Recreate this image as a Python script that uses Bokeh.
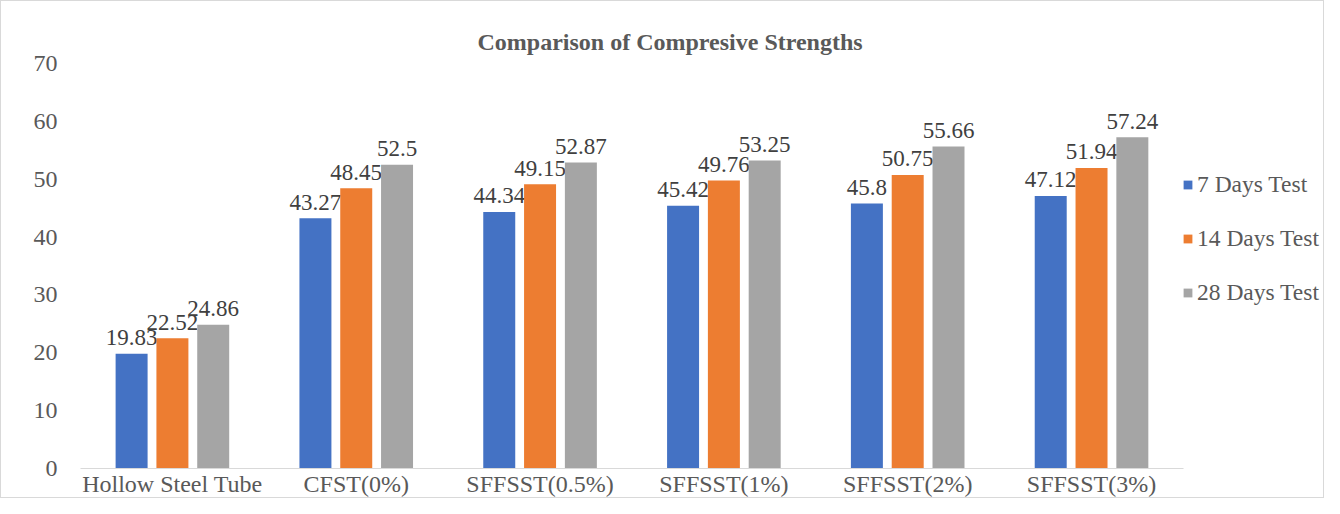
from bokeh.plotting import figure
from bokeh.models import ColumnDataSource, Range1d, Legend, LegendItem, SingleIntervalTicker, FixedTicker
from bokeh.transform import dodge
from bokeh.core.properties import value
from bokeh.embed import file_html
from bokeh.resources import INLINE

categories = ["Hollow Steel Tube", "CFST(0%)", "SFFSST(0.5%)", "SFFSST(1%)", "SFFSST(2%)", "SFFSST(3%)"]
series_names = ["7 Days Test", "14 Days Test", "28 Days Test"]
days7 = [19.83, 43.27, 44.34, 45.42, 45.8, 47.12]
days14 = [22.52, 48.45, 49.15, 49.76, 50.75, 51.94]
days28 = [24.86, 52.5, 52.87, 53.25, 55.66, 57.24]
colors = ["#4472C4", "#ED7D31", "#A5A5A5"]

FONT = "Liberation Serif"
n = len(categories)
centers = [i + 0.5 for i in range(n)]

src = ColumnDataSource(dict(
    x=centers,
    d7=days7, d14=days14, d28=days28,
    l7=[f"{v:g}" for v in days7],
    l14=[f"{v:g}" for v in days14],
    l28=[f"{v:g}" for v in days28],
))

# extra room on the right of the numeric x range holds the legend
p = figure(
    x_range=Range1d(0, n * 1.1288),
    y_range=Range1d(0, 70),
    width=1324, height=498,
    output_backend="svg", toolbar_location=None,
    min_border_left=79, min_border_right=0, min_border_bottom=25, min_border_top=62,
)
p.styles = {"border": "1px solid #d9d9d9"}
p.outline_line_color = None

p.title.text = "Comparison of Compresive Strengths"
p.title.text_font = FONT
p.title.text_font_size = "24px"
p.title.text_font_style = "bold"
p.title.text_color = "#595959"
p.title.align = "left"
p.title.offset = 397
p.title.standoff = 17

offsets = [-0.222, 0.0, 0.222]
fields = ["d7", "d14", "d28"]
lfields = ["l7", "l14", "l28"]
items = []
for off, f, lf, c, name in zip(offsets, fields, lfields, colors, series_names):
    r = p.vbar(x=dodge("x", off), top=f, width=0.174, source=src,
               fill_color=c, line_color=None)
    p.text(x=dodge("x", off), y=f, text=lf, source=src,
           text_font=value(FONT), text_font_size="23px", text_color="#404040",
           text_align="center", text_baseline="alphabetic", y_offset=-16)
    items.append(LegendItem(label=name, renderers=[r]))

legend = Legend(items=items, location=(1102, 162))
legend.padding = 0
legend.margin = 0
legend.border_line_color = None
legend.background_fill_alpha = 0
legend.glyph_width = 11
legend.glyph_height = 11
legend.label_height = 28
legend.label_standoff = 4
legend.label_text_font = FONT
legend.label_text_font_size = "23.5px"
legend.label_text_color = "#595959"
legend.label_text_baseline = "middle"
legend.spacing = 26
p.add_layout(legend, "center")

p.xgrid.grid_line_color = None
p.ygrid.grid_line_color = "#d9d9d9"
p.ygrid.grid_line_width = 1
p.ygrid.bounds = (0, n)
p.yaxis.ticker = SingleIntervalTicker(interval=10)
p.yaxis.axis_line_color = None
p.yaxis.major_tick_line_color = None
p.yaxis.minor_tick_line_color = None
p.yaxis.major_tick_out = 0
p.yaxis.major_tick_in = 0
p.yaxis.major_label_standoff = 19
p.yaxis.major_label_text_font = FONT
p.yaxis.major_label_text_font_size = "24px"
p.yaxis.major_label_text_color = "#595959"

p.xaxis.ticker = FixedTicker(ticks=centers)
p.xaxis.major_label_overrides = {c: lab for c, lab in zip(centers, categories)}
p.xaxis.bounds = (0, n)
p.xaxis.axis_line_color = "#d9d9d9"
p.xaxis.major_tick_line_color = None
p.xaxis.minor_tick_line_color = None
p.xaxis.major_tick_out = 0
p.xaxis.major_tick_in = 0
p.xaxis.major_label_standoff = 2
p.xaxis.major_label_text_font = FONT
p.xaxis.major_label_text_font_size = "24px"
p.xaxis.major_label_text_color = "#595959"

open("out.html", "w").write(file_html(p, INLINE))
